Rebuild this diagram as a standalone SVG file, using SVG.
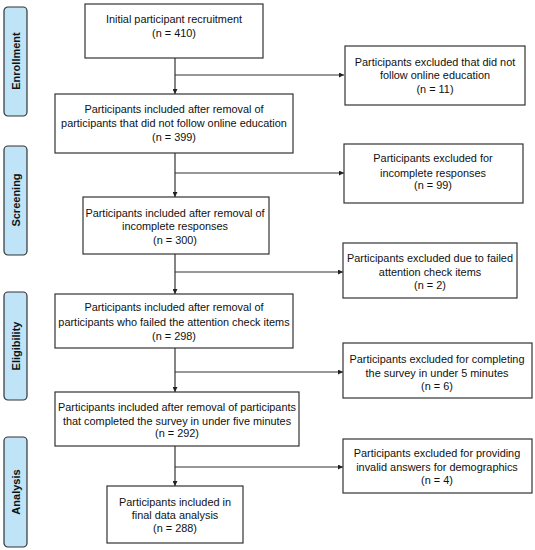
<svg xmlns="http://www.w3.org/2000/svg" width="535" height="550" viewBox="0 0 535 550">
<style>
.box{fill:#fff;stroke:#333;stroke-width:1.2}
.side{fill:#bfe4f8;stroke:#333;stroke-width:1.2}
.t{font-family:"Liberation Sans",Arial,sans-serif;font-size:10.9px;fill:#111;text-anchor:middle}
.s{font-family:"Liberation Sans",Arial,sans-serif;font-size:11px;font-weight:bold;fill:#111;text-anchor:middle}
.c{fill:none;stroke:#333;stroke-width:1.2}
</style>
<defs>
<marker id="ah" viewBox="0 0 10 10" refX="10" refY="5" markerWidth="5" markerHeight="5" orient="auto" markerUnits="userSpaceOnUse">
<path d="M0,0 L10,5 L0,10 z" fill="#222"/>
</marker>
</defs>
<g id="side-enrollment"><rect class="side" x="4" y="7" width="23" height="109" rx="4"/><text class="s" transform="translate(19.5,61) rotate(-90)">Enrollment</text></g>
<g id="side-screening"><rect class="side" x="4" y="146" width="23" height="109" rx="4"/><text class="s" transform="translate(19.5,200) rotate(-90)">Screening</text></g>
<g id="side-eligibility"><rect class="side" x="4" y="292" width="23" height="108" rx="4"/><text class="s" transform="translate(19.5,346) rotate(-90)">Eligibility</text></g>
<g id="side-analysis"><rect class="side" x="4" y="437" width="23" height="110" rx="4"/><text class="s" transform="translate(19.5,492) rotate(-90)">Analysis</text></g>

<g id="connectors">
<line class="c" x1="175" y1="58" x2="175" y2="94" marker-end="url(#ah)"/>
<line class="c" x1="175" y1="75" x2="344" y2="75" marker-end="url(#ah)"/>
<line class="c" x1="175" y1="153" x2="175" y2="197" marker-end="url(#ah)"/>
<line class="c" x1="175" y1="173" x2="344" y2="173" marker-end="url(#ah)"/>
<line class="c" x1="175" y1="254" x2="175" y2="294" marker-end="url(#ah)"/>
<line class="c" x1="175" y1="272" x2="343" y2="272" marker-end="url(#ah)"/>
<line class="c" x1="175" y1="348" x2="175" y2="392" marker-end="url(#ah)"/>
<line class="c" x1="175" y1="372" x2="343" y2="372" marker-end="url(#ah)"/>
<line class="c" x1="175" y1="446" x2="175" y2="486" marker-end="url(#ah)"/>
<line class="c" x1="175" y1="467" x2="343" y2="467" marker-end="url(#ah)"/>
</g>

<g id="n1"><rect class="box" x="85" y="4" width="178" height="54"/><text class="t" x="174" y="23">Initial participant recruitment</text><text class="t" x="174" y="37">(n = 410)</text></g>
<g id="x1"><rect class="box" x="345" y="46" width="180" height="59"/><text class="t" x="435" y="66">Participants excluded that did not</text><text class="t" x="435" y="79">follow online education</text><text class="t" x="435" y="93">(n = 11)</text></g>
<g id="n2"><rect class="box" x="55" y="94" width="238" height="59"/><text class="t" x="174" y="113">Participants included after removal of</text><text class="t" x="174" y="127">participants that did not follow online education</text><text class="t" x="174" y="141">(n = 399)</text></g>
<g id="x2"><rect class="box" x="344" y="144" width="179" height="59"/><text class="t" x="433" y="162">Participants excluded for</text><text class="t" x="433" y="177">incomplete responses</text><text class="t" x="433" y="189">(n = 99)</text></g>
<g id="n3"><rect class="box" x="83" y="197" width="186" height="57"/><text class="t" x="175" y="217">Participants included after removal of</text><text class="t" x="175" y="230">incomplete responses</text><text class="t" x="175" y="244">(n = 300)</text></g>
<g id="x3"><rect class="box" x="343" y="243" width="174" height="55"/><text class="t" x="430" y="262">Participants excluded due to failed</text><text class="t" x="430" y="276">attention check items</text><text class="t" x="430" y="289">(n = 2)</text></g>
<g id="n4"><rect class="box" x="55" y="294" width="238" height="54"/><text class="t" x="174" y="311">Participants included after removal of</text><text class="t" x="174" y="326">participants who failed the attention check items</text><text class="t" x="174" y="340">(n = 298)</text></g>
<g id="x4"><rect class="box" x="343" y="343" width="189" height="55"/><text class="t" x="437" y="363">Participants excluded for completing</text><text class="t" x="437" y="377">the survey in under 5 minutes</text><text class="t" x="437" y="390">(n = 6)</text></g>
<g id="n5"><rect class="box" x="55" y="392" width="244" height="54"/><text class="t" x="177" y="411">Participants included after removal of participants</text><text class="t" x="177" y="425">that completed the survey in under five minutes</text><text class="t" x="177" y="437">(n = 292)</text></g>
<g id="x5"><rect class="box" x="343" y="439" width="189" height="54"/><text class="t" x="437" y="457">Participants excluded for providing</text><text class="t" x="437" y="471">invalid answers for demographics</text><text class="t" x="437" y="484">(n = 4)</text></g>
<g id="n6"><rect class="box" x="107" y="486" width="136" height="57"/><text class="t" x="175" y="506">Participants included in</text><text class="t" x="175" y="519">final data analysis</text><text class="t" x="175" y="532">(n = 288)</text></g>
</svg>
